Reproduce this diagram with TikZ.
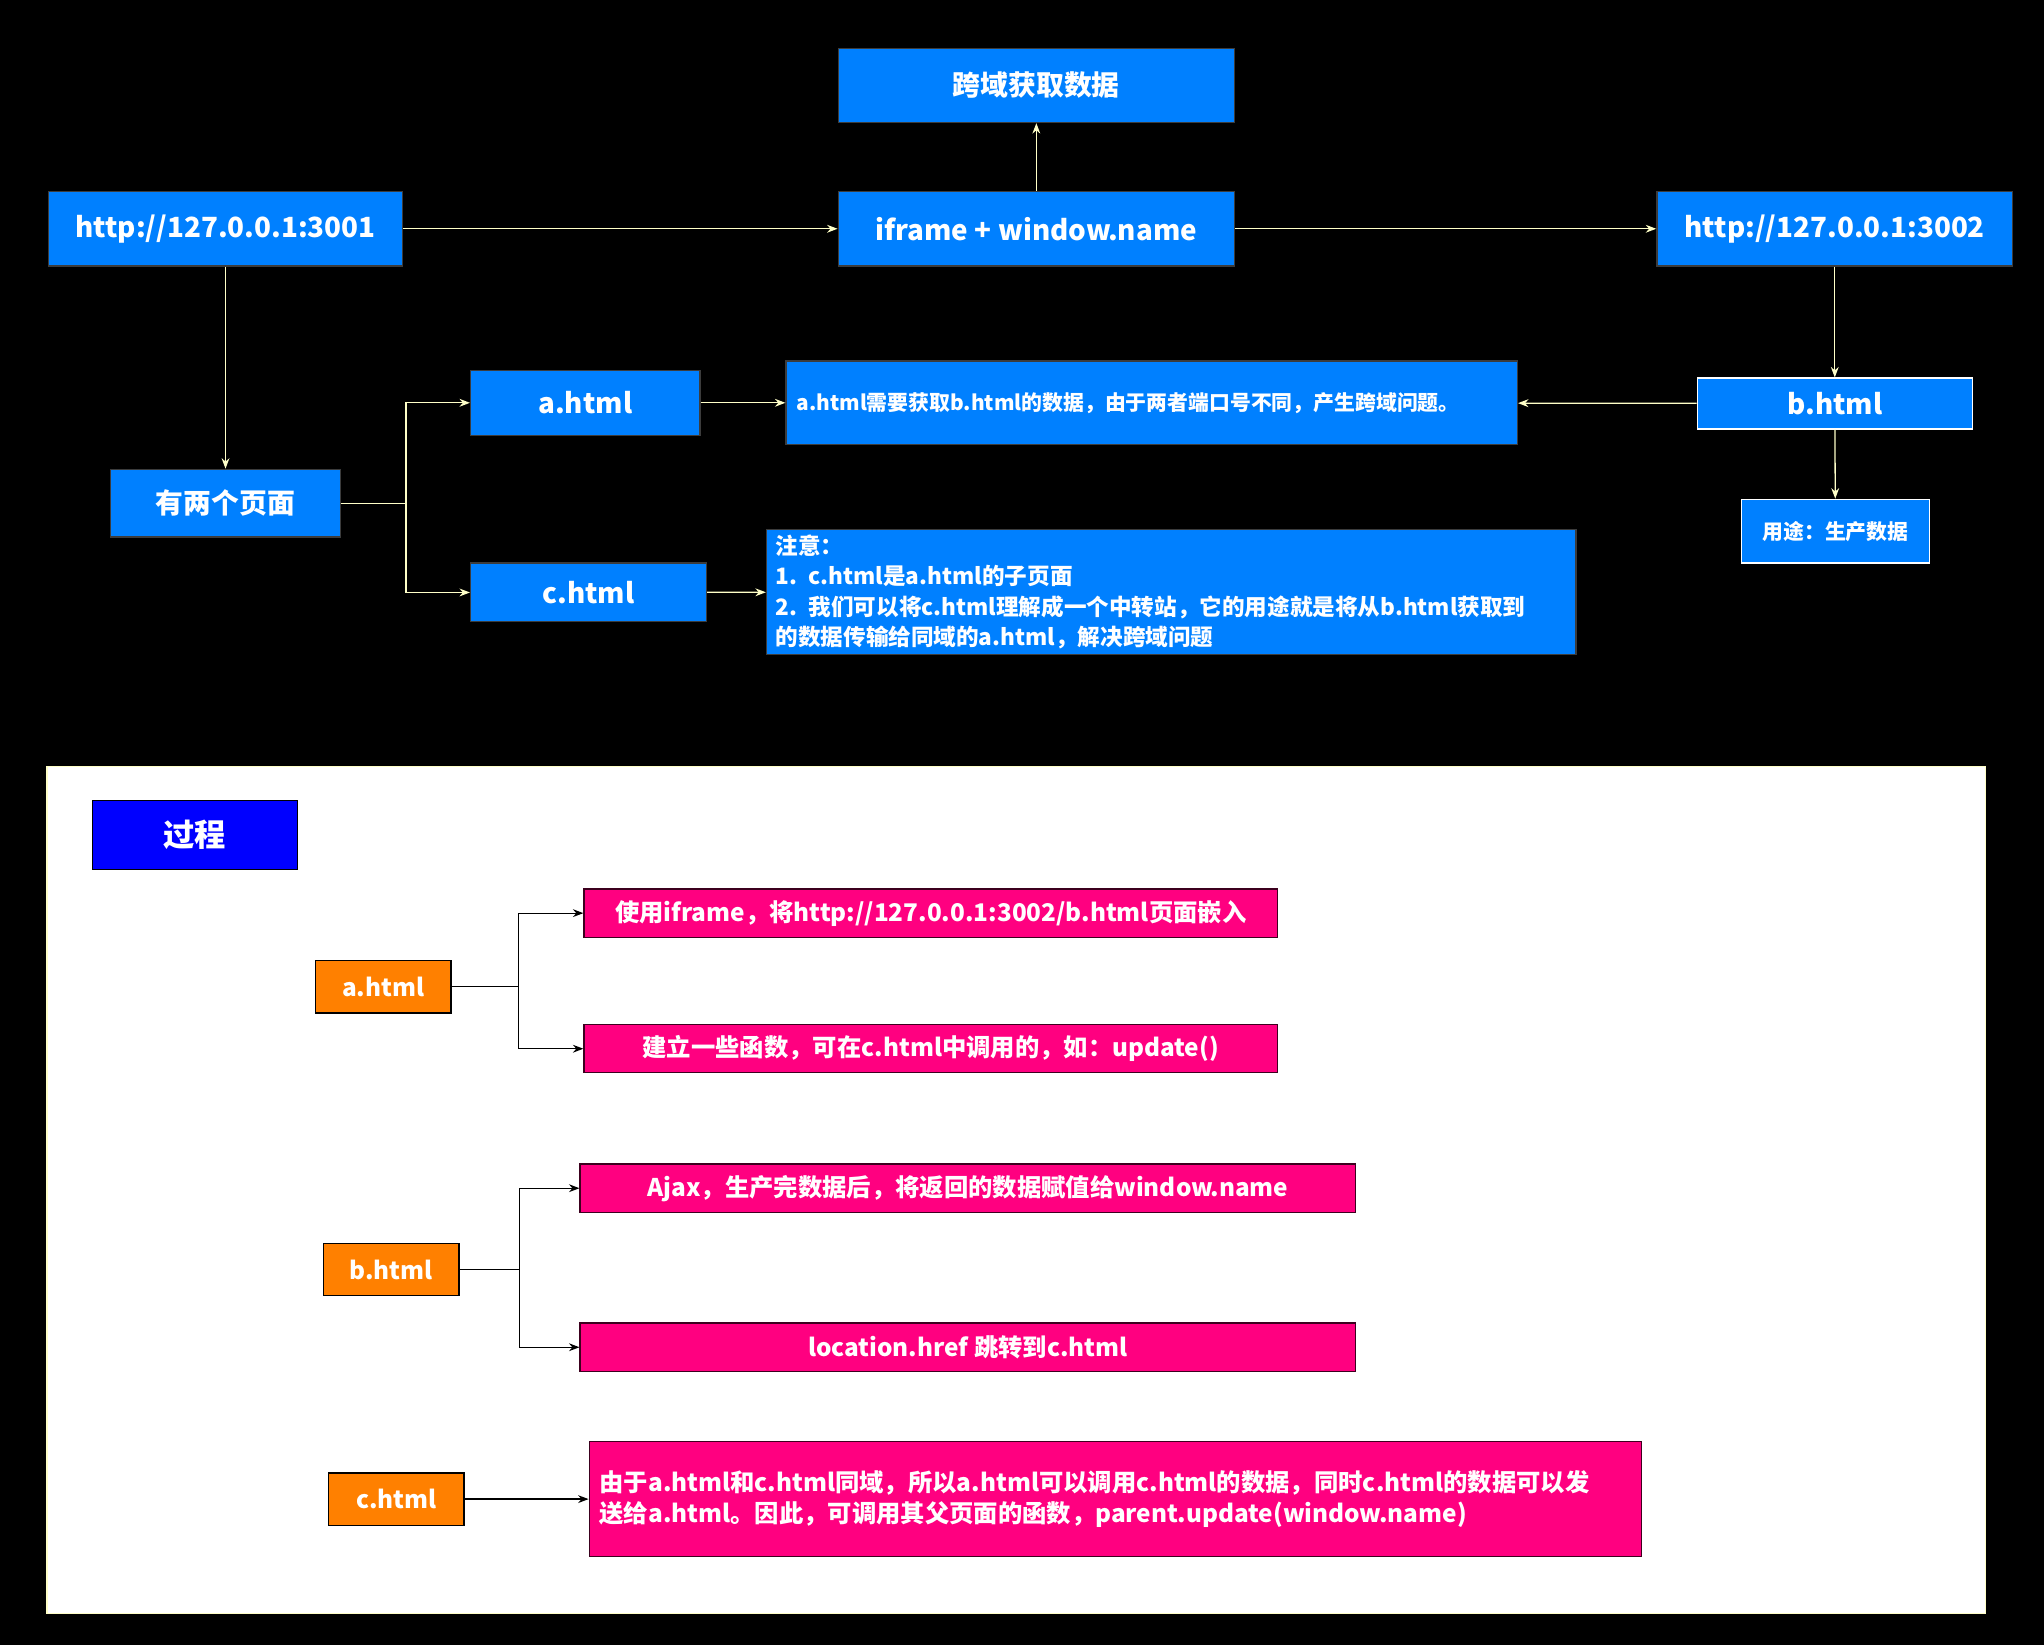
\documentclass[tikz,border=0pt]{standalone}
\usepackage{fontspec}
\setmainfont{Noto Sans CJK SC}
\usetikzlibrary{arrows.meta}
\definecolor{boxblue}{RGB}{0,128,255}
\definecolor{boxpink}{RGB}{255,0,128}
\definecolor{boxorange}{RGB}{255,128,0}
\definecolor{linkyellow}{RGB}{255,255,200}
\tikzset{every picture/.style={line width=0.75pt}}
\tikzset{
  sz/.style 2 args={minimum width=#1*0.75pt, minimum height=#2*0.75pt, inner sep=0pt},
  bluebox/.style={draw={rgb,255:red,60;green,60;blue,60}, fill=boxblue, text=white, font=\bfseries\fontsize{16}{19}\selectfont},
  notebox/.style={draw={rgb,255:red,60;green,60;blue,60}, fill=boxblue, text=white, font=\bfseries\fontsize{12}{16}\selectfont, align=left},
  pinkbox/.style={draw={rgb,255:red,60;green,0;blue,30}, fill=boxpink, text=white, font=\bfseries\fontsize{14}{18}\selectfont},
  orangebox/.style={draw=black, fill=boxorange, text=white, font=\bfseries\fontsize{14}{18}\selectfont},
  toplink/.style={draw=linkyellow, -{Stealth[length=6pt,width=4.5pt]}},
  panellink/.style={draw=black, -{Stealth[length=6pt,width=4.5pt]}}
}
\begin{document}
\begin{tikzpicture}[x=0.75pt,y=0.75pt,yscale=-1,xscale=1]
\fill[black] (0,0) rectangle (1568,1262);
\useasboundingbox (0,0) rectangle (1568,1262);

%top part
\node[bluebox, sz={304}{57}] (fetch) at (795,65.5) {跨域获取数据};
\node[bluebox, sz={272}{57}] (host1) at (173,175.5) {http://127.0.0.1:3001};
\node[bluebox, sz={304}{57}] (iframe) at (795,175.5) {iframe + window.name};
\node[bluebox, sz={273}{57}] (host2) at (1407.5,175.5) {http://127.0.0.1:3002};
\node[bluebox, sz={176}{50}] (apage) at (449,309) {a.html};
\node[notebox, sz={561}{64}, text width=545*0.75pt] (needs) at (883.5,309) {a.html需要获取b.html的数据，由于两者端口号不同，产生跨域问题。};
\node[bluebox, sz={211}{39}, draw=white] (bpage) at (1407.5,309.5) {b.html};
\node[bluebox, sz={176}{52}] (pages) at (173,386) {有两个页面};
\node[bluebox, sz={181}{45}] (cpage) at (451.5,454.5) {c.html};
\node[notebox, sz={621}{96}, font=\bfseries\fontsize{13}{17.5}\selectfont, text width=607*0.75pt] (remark) at (898.5,454) {注意：\\1. c.html是a.html的子页面\\2. 我们可以将c.html理解成一个中转站，它的用途就是将从b.html获取到\\的数据传输给同域的a.html，解决跨域问题};
\node[notebox, sz={144}{49}, draw=white, align=center] (usage) at (1408,407.5) {用途：生产数据};

\draw[toplink] (host1) -- (iframe);
\draw[toplink] (iframe) -- (fetch);
\draw[toplink] (iframe) -- (host2);
\draw[toplink] (host1) -- (pages);
\draw[toplink] (host2) -- (bpage);
\draw[toplink] (bpage) -- (usage);
\draw[toplink] (bpage) -- (needs);
\draw[toplink] (apage) -- (needs);
\draw[toplink] (cpage) -- (remark);
\draw[toplink] (pages.east) -- ++(50,0) |- (apage.west);
\draw[toplink] (pages.east) -- ++(50,0) |- (cpage.west);

%process panel
\draw[draw=linkyellow, fill=white] (36,588) rectangle (1523,1238);
\node[sz={157}{53}, draw=black, fill={rgb,255:red,0;green,0;blue,255}, text=white, font=\bfseries\fontsize{18}{22}\selectfont] (proc) at (149.5,640.5) {过程};

\node[orangebox, sz={104}{40}] (astep) at (294,757) {a.html};
\node[pinkbox, sz={532}{37}] (embed) at (714,700.5) {使用iframe，将http://127.0.0.1:3002/b.html页面嵌入};
\node[pinkbox, sz={532}{37}] (funcs) at (714,804.5) {建立一些函数，可在c.html中调用的，如：update()};

\node[orangebox, sz={104}{40}] (bstep) at (300,974) {b.html};
\node[pinkbox, sz={595}{37}] (ajax) at (742.5,911.5) {Ajax，生产完数据后，将返回的数据赋值给window.name};
\node[pinkbox, sz={595}{37}] (jump) at (742.5,1033.5) {location.href 跳转到c.html};

\node[orangebox, sz={104}{40}] (cstep) at (304,1150) {c.html};
\node[pinkbox, sz={807}{88}, align=left, text width=791*0.75pt] (send) at (855.5,1150) {由于a.html和c.html同域，所以a.html可以调用c.html的数据，同时c.html的数据可以发\\送给a.html。因此，可调用其父页面的函数，parent.update(window.name)};

\draw[panellink] (astep.east) -- ++(51,0) |- (embed.west);
\draw[panellink] (astep.east) -- ++(51,0) |- (funcs.west);
\draw[panellink] (bstep.east) -- ++(46,0) |- (ajax.west);
\draw[panellink] (bstep.east) -- ++(46,0) |- (jump.west);
\draw[panellink] (cstep) -- (send);

\end{tikzpicture}
\end{document}
